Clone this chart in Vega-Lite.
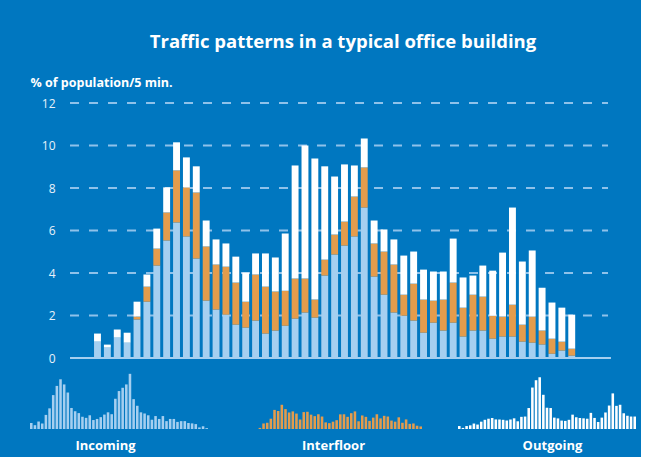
{
  "$schema": "https://vega.github.io/schema/vega-lite/v6.json",
  "background": "#0077c0",
  "padding": {"left": 30, "top": 32, "right": 5, "bottom": 5},
  "title": {"text": "Traffic patterns in a typical office building", "font": "Open Sans", "fontSize": 18.5, "fontWeight": "bold", "color": "#ffffff", "anchor": "middle", "offset": 25, "dx": 10},
  "datasets": {
    "traffic": [
      {"i":1,"Incoming":0.77,"Interfloor":0,"Outgoing":0.38},
      {"i":2,"Incoming":0.49,"Interfloor":0,"Outgoing":0.14},
      {"i":3,"Incoming":0.96,"Interfloor":0,"Outgoing":0.38},
      {"i":4,"Incoming":0.72,"Interfloor":0,"Outgoing":0.47},
      {"i":5,"Incoming":1.81,"Interfloor":0.14,"Outgoing":0.70},
      {"i":6,"Incoming":2.65,"Interfloor":0.71,"Outgoing":0.57},
      {"i":7,"Incoming":4.35,"Interfloor":0.80,"Outgoing":0.94},
      {"i":8,"Incoming":5.53,"Interfloor":1.32,"Outgoing":1.18},
      {"i":9,"Incoming":6.38,"Interfloor":2.45,"Outgoing":1.32},
      {"i":10,"Incoming":5.72,"Interfloor":2.31,"Outgoing":1.41},
      {"i":11,"Incoming":4.68,"Interfloor":3.11,"Outgoing":1.23},
      {"i":12,"Incoming":2.70,"Interfloor":2.55,"Outgoing":1.22},
      {"i":13,"Incoming":2.28,"Interfloor":2.12,"Outgoing":1.18},
      {"i":14,"Incoming":2.04,"Interfloor":2.26,"Outgoing":1.09},
      {"i":15,"Incoming":1.57,"Interfloor":1.98,"Outgoing":1.22},
      {"i":16,"Incoming":1.43,"Interfloor":1.22,"Outgoing":1.37},
      {"i":17,"Incoming":1.76,"Interfloor":2.17,"Outgoing":0.99},
      {"i":18,"Incoming":1.15,"Interfloor":2.21,"Outgoing":1.56},
      {"i":19,"Incoming":1.29,"Interfloor":1.84,"Outgoing":1.60},
      {"i":20,"Incoming":1.52,"Interfloor":1.65,"Outgoing":2.69},
      {"i":21,"Incoming":1.85,"Interfloor":1.89,"Outgoing":5.32},
      {"i":22,"Incoming":2.14,"Interfloor":1.60,"Outgoing":6.26},
      {"i":23,"Incoming":1.90,"Interfloor":0.85,"Outgoing":6.64},
      {"i":24,"Incoming":3.88,"Interfloor":0.75,"Outgoing":4.39},
      {"i":25,"Incoming":4.87,"Interfloor":0.94,"Outgoing":2.73},
      {"i":26,"Incoming":5.29,"Interfloor":1.13,"Outgoing":2.69},
      {"i":27,"Incoming":5.72,"Interfloor":1.88,"Outgoing":1.46},
      {"i":28,"Incoming":7.08,"Interfloor":1.89,"Outgoing":1.36},
      {"i":29,"Incoming":3.83,"Interfloor":1.56,"Outgoing":1.08},
      {"i":30,"Incoming":2.98,"Interfloor":2.03,"Outgoing":1.04},
      {"i":31,"Incoming":2.14,"Interfloor":2.26,"Outgoing":1.18},
      {"i":32,"Incoming":1.99,"Interfloor":0.99,"Outgoing":1.84},
      {"i":33,"Incoming":1.76,"Interfloor":1.74,"Outgoing":1.51},
      {"i":34,"Incoming":1.19,"Interfloor":1.56,"Outgoing":1.41},
      {"i":35,"Incoming":1.66,"Interfloor":1.04,"Outgoing":1.37},
      {"i":36,"Incoming":1.29,"Interfloor":1.46,"Outgoing":1.32},
      {"i":37,"Incoming":1.66,"Interfloor":1.89,"Outgoing":2.07},
      {"i":38,"Incoming":1.01,"Interfloor":1.36,"Outgoing":1.42},
      {"i":39,"Incoming":1.29,"Interfloor":1.69,"Outgoing":0.90},
      {"i":40,"Incoming":1.29,"Interfloor":1.60,"Outgoing":1.46},
      {"i":41,"Incoming":0.91,"Interfloor":1.08,"Outgoing":2.12},
      {"i":42,"Incoming":1.01,"Interfloor":0.94,"Outgoing":3.01},
      {"i":43,"Incoming":1.01,"Interfloor":1.50,"Outgoing":4.57},
      {"i":44,"Incoming":0.77,"Interfloor":0.80,"Outgoing":2.97},
      {"i":45,"Incoming":0.72,"Interfloor":1.23,"Outgoing":3.11},
      {"i":46,"Incoming":0.63,"Interfloor":0.66,"Outgoing":2.02},
      {"i":47,"Incoming":0.20,"Interfloor":0.71,"Outgoing":1.70},
      {"i":48,"Incoming":0.35,"Interfloor":0.42,"Outgoing":1.60},
      {"i":49,"Incoming":0.11,"Interfloor":0.33,"Outgoing":1.60}
    ],
    "grid": [{"g": 0}, {"g": 2}, {"g": 4}, {"g": 6}, {"g": 8}, {"g": 10}, {"g": 12}]
  },
  "spacing": 5,
  "vconcat": [
    {
      "width": 578,
      "height": 255,
      "layer": [
        {
          "data": {"name": "grid"},
          "transform": [{"filter": "datum.g > 0"}],
          "mark": {"type": "rule", "color": "#8fc2ea", "strokeWidth": 2, "strokeDash": [9, 10]},
          "encoding": {
            "y": {"field": "g", "type": "quantitative"},
            "x": {"datum": -1.78, "type": "quantitative", "axis": null, "scale": {"domain": [-5.83, 52.67], "nice": false, "zero": false, "padding": 0}},
            "x2": {"datum": 52.67}
          }
        },
        {
          "data": {"name": "traffic"},
          "transform": [{"fold": ["Incoming", "Interfloor", "Outgoing"], "as": ["type", "value"]}],
          "mark": {"type": "bar", "width": 6.9},
          "encoding": {
            "x": {"field": "i", "type": "quantitative", "axis": null, "scale": {"domain": [-5.83, 52.67], "nice": false, "zero": false, "padding": 0}},
            "y": {"field": "value", "type": "quantitative", "stack": "zero",
              "scale": {"domain": [0, 12], "nice": false},
              "axis": {"values": [0, 2, 4, 6, 8, 10, 12], "grid": false, "offset": -40,
                "ticks": false, "domain": false, "labelPadding": 15, "labelColor": "#e8f1fa", "labelFont": "Open Sans", "labelFontSize": 12,
                "title": "% of population/5 min.", "titleAngle": 0, "titleAlign": "left", "titleBaseline": "alphabetic", "titleX": -40, "titleY": -17,
                "titleColor": "#ffffff", "titleFont": "Open Sans", "titleFontSize": 12.5, "titleFontWeight": "bold"}},
            "color": {"field": "type", "type": "nominal", "legend": null,
              "scale": {"domain": ["Incoming", "Interfloor", "Outgoing"], "range": ["#a5cff0", "#e49c4c", "#ffffff"]}},
            "order": {"field": "type", "sort": "ascending"}
          }
        },
        {
          "data": {"name": "grid"},
          "transform": [{"filter": "datum.g == 0"}],
          "mark": {"type": "rule", "color": "#a5cff0", "strokeWidth": 2},
          "encoding": {
            "y": {"field": "g", "type": "quantitative"},
            "x": {"datum": -1.78, "type": "quantitative", "axis": null, "scale": {"domain": [-5.83, 52.67], "nice": false, "zero": false, "padding": 0}},
            "x2": {"datum": 52.97}
          }
        }
      ]
    },
    {
      "data": {"name": "traffic"},
      "spacing": 36,
      "hconcat": [
        {
          "width": 178, "height": 60,
          "mark": {"type": "bar", "color": "#a5cff0"},
          "encoding": {
            "x": {"field": "i", "type": "ordinal", "scale": {"paddingInner": 0.3, "paddingOuter": 0},
              "axis": {"labels": false, "ticks": false, "domain": false, "title": "Incoming", "titleX": 75, "titleColor": "#ffffff", "titleFont": "Open Sans", "titleFontSize": 13, "titleFontWeight": "bold", "titlePadding": 10}},
            "y": {"field": "Incoming", "type": "quantitative", "scale": {"domain": [0, 7.7], "nice": false}, "axis": null}
          }
        },
        {
          "width": 178, "height": 60,
          "mark": {"type": "bar", "color": "#e49c4c"},
          "encoding": {
            "x": {"field": "i", "type": "ordinal", "scale": {"paddingInner": 0.3, "paddingOuter": 0},
              "axis": {"labels": false, "ticks": false, "domain": false, "title": "Interfloor", "titleColor": "#ffffff", "titleFont": "Open Sans", "titleFontSize": 13, "titleFontWeight": "bold", "titlePadding": 10}},
            "y": {"field": "Interfloor", "type": "quantitative", "scale": {"domain": [0, 7.7], "nice": false}, "axis": null}
          }
        },
        {
          "width": 178, "height": 60,
          "mark": {"type": "bar", "color": "#ffffff"},
          "encoding": {
            "x": {"field": "i", "type": "ordinal", "scale": {"paddingInner": 0.3, "paddingOuter": 0},
              "axis": {"labels": false, "ticks": false, "domain": false, "title": "Outgoing", "titleX": 94, "titleColor": "#ffffff", "titleFont": "Open Sans", "titleFontSize": 13, "titleFontWeight": "bold", "titlePadding": 10}},
            "y": {"field": "Outgoing", "type": "quantitative", "scale": {"domain": [0, 7.7], "nice": false}, "axis": null}
          }
        }
      ]
    }
  ],
  "config": {"view": {"stroke": null}}
}
